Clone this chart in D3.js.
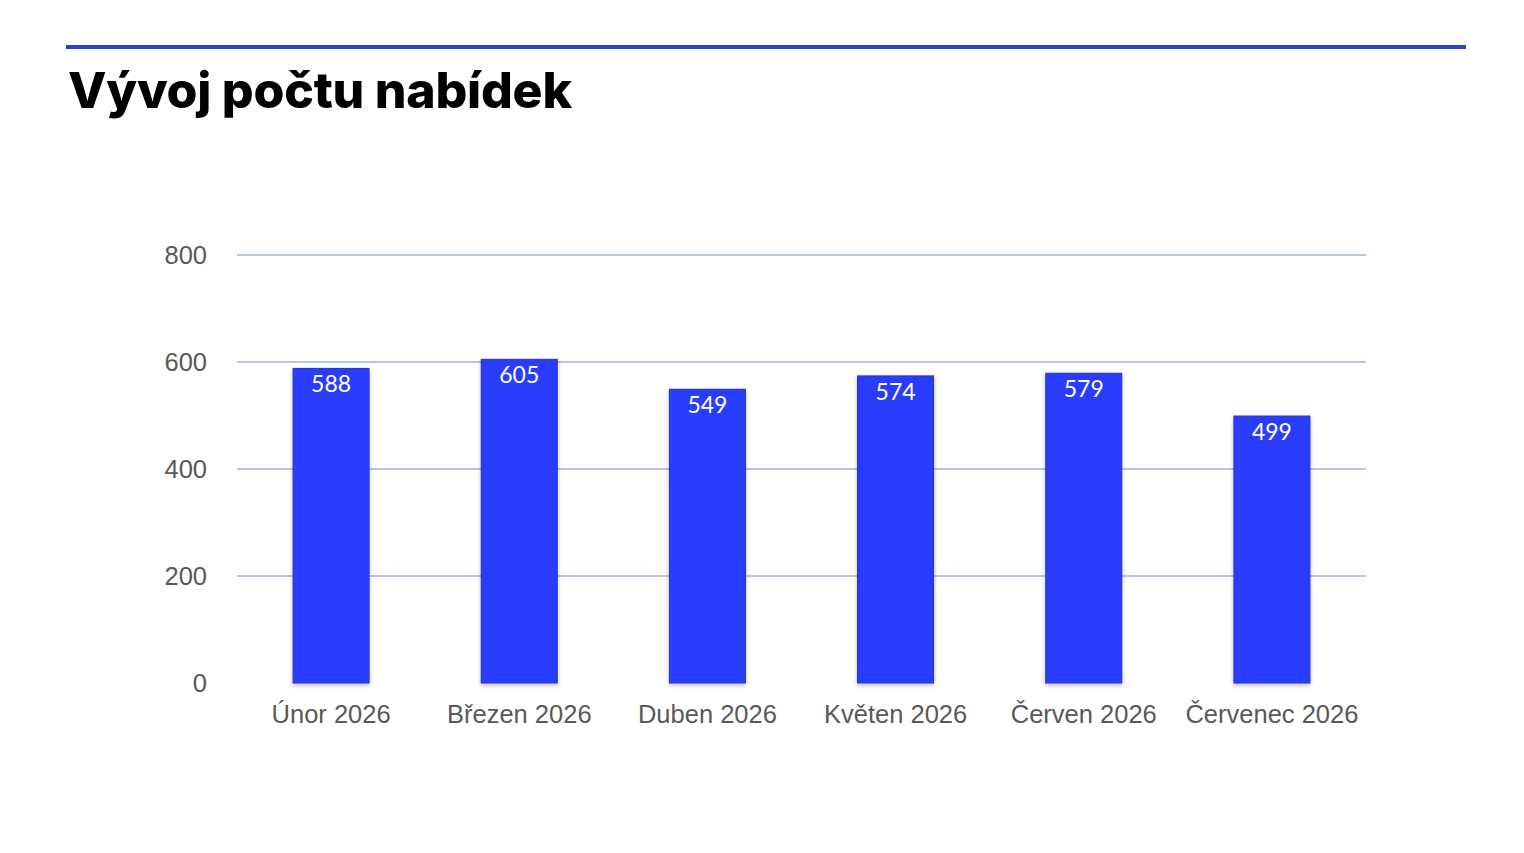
<!doctype html>
<html lang="cs">
<head>
  <meta charset="utf-8">
  <title>Vývoj počtu nabídek</title>
  <script src="https://cdnjs.cloudflare.com/ajax/libs/d3/7.8.5/d3.min.js"></script>
  <style>
    body { margin: 0; background: #fff; }
    .tick text { font-family: "Liberation Sans", Arial, sans-serif; fill: #595959; font-size: 25.5px; }
  </style>
</head>
<body>
  <svg width="1524" height="853" id="svg"></svg>
<script>
  var months = ['Únor 2026', 'Březen 2026', 'Duben 2026', 'Květen 2026', 'Červen 2026', 'Červenec 2026'];
  var offers = [588, 605, 549, 574, 579, 499];
  var yTicks = [0, 200, 400, 600, 800];

  var plotLeft = 237, plotRight = 1366, plotTop = 255, plotBottom = 683;

  var svg = d3.select('#svg');

  var defs = svg.append('defs');
  var f = defs.append('filter').attr('id', 'shadow')
    .attr('x', '-20%').attr('y', '-10%').attr('width', '140%').attr('height', '130%');
  f.append('feDropShadow').attr('dx', 0).attr('dy', 2).attr('stdDeviation', 2)
    .attr('flood-color', '#000').attr('flood-opacity', 0.25);

  // header rule + title
  svg.append('rect').attr('x', 66).attr('y', 45).attr('width', 1400).attr('height', 4).attr('fill', '#2a3fd6');
  svg.append('text').attr('x', 68).attr('y', 108)
    .attr('font-family', 'Inter, "Noto Sans", sans-serif').attr('font-weight', 800)
    .attr('font-size', 50).attr('letter-spacing', -0.25).attr('fill', '#000')
    .text('Vývoj počtu nabídek');

  var x = d3.scaleBand().domain(months).range([plotLeft, plotRight]).paddingInner(0.596).paddingOuter(0.298);
  var y = d3.scaleLinear().domain([0, 800]).range([plotBottom, plotTop]);

  // gridlines
  svg.append('g').selectAll('line').data(yTicks.filter(function(d) { return d > 0; }))
    .enter().append('line')
    .attr('x1', plotLeft).attr('x2', plotRight)
    .attr('y1', function(d) { return y(d); }).attr('y2', function(d) { return y(d); })
    .attr('stroke', '#9db3e6').attr('stroke-width', 1.5);

  var yAxis = svg.append('g').attr('transform', 'translate(' + (plotLeft - 30) + ',0)')
    .call(d3.axisLeft(y).tickValues(yTicks).tickSize(0).tickPadding(0));
  yAxis.select('.domain').remove();
  yAxis.selectAll('text').attr('dy', '0.35em');

  var xAxis = svg.append('g').attr('transform', 'translate(0,' + plotBottom + ')')
    .call(d3.axisBottom(x).tickSize(0).tickPadding(22));
  xAxis.select('.domain').remove();

  svg.append('g').selectAll('rect').data(offers).enter().append('rect')
    .attr('x', function(d, i) { return x(months[i]); })
    .attr('y', function(d) { return y(d); })
    .attr('width', x.bandwidth())
    .attr('height', function(d) { return plotBottom - y(d); })
    .attr('fill', '#2b3cff').attr('stroke', '#2533c4').attr('stroke-width', 1)
    .attr('filter', 'url(#shadow)');

  svg.append('g').selectAll('text').data(offers).enter().append('text')
    .attr('x', function(d, i) { return x(months[i]) + x.bandwidth() / 2; })
    .attr('y', function(d) { return y(d) + 24; })
    .attr('text-anchor', 'middle')
    .attr('font-family', 'Lato, "Open Sans", sans-serif').attr('font-size', 23)
    .attr('fill', '#fff')
    .text(function(d) { return d; });
</script>
</body>
</html>
